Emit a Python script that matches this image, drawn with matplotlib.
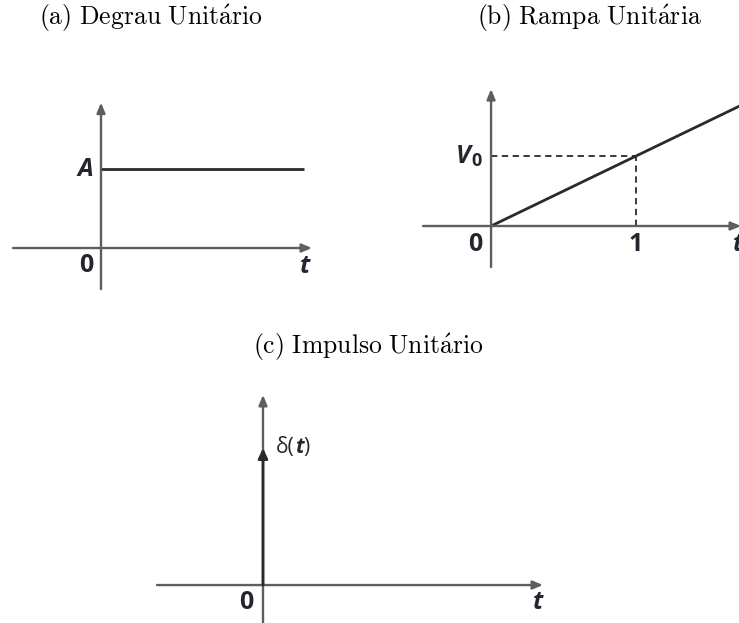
import matplotlib.pyplot as plt

plt.rcParams["mathtext.fontset"] = "cm"

W, H = 739, 623

# (a) degrau de amplitude A
step_t = [0.0, 2.03]
step_y = [1.0, 1.0]

# (b) rampa: atinge V0 em t = 1
ramp_t = [0.0, 1.75]
ramp_y = [0.0, 1.75]
v0_t = 1.0
v0_y = 1.0

# (c) impulso em t = 0
impulse_t = 0.0
impulse_y = 1.0

titles = [r"$\mathrm{(a)\ Degrau\ Unit\acute{a}rio}$",
          r"$\mathrm{(b)\ Rampa\ Unit\acute{a}ria}$",
          r"$\mathrm{(c)\ Impulso\ Unit\acute{a}rio}$"]

axis_color = "#5e5e5e"
line_color = "#2a2a2a"
label_color = "#25252f"

sans = ["Open Sans", "DejaVu Sans"]
label_kw = dict(family=sans, fontweight="bold", fontstyle="italic",
                fontsize=18, color=label_color, ha="center", va="center")
num_kw = {**label_kw, "fontstyle": "normal"}
title_kw = dict(fontsize=18.5, ha="center", va="center", color="black")


def px_axes(fig, x0, y0, x1, y1, xlim, ylim):
    ax = fig.add_axes([x0 / W, 1 - y1 / H, (x1 - x0) / W, (y1 - y0) / H])
    ax.set_xlim(xlim)
    ax.set_ylim(ylim)
    ax.axis("off")
    return ax


def draw_axes(ax, xmin, xmax, ymin, ymax):
    arrow = dict(arrowstyle="-|>,head_length=0.6,head_width=0.25",
                 color=axis_color, lw=1.7, shrinkA=0, shrinkB=0)
    ax.annotate("", xy=(xmax, 0), xytext=(xmin, 0), arrowprops=arrow,
                annotation_clip=False)
    ax.annotate("", xy=(0, ymax), xytext=(0, ymin), arrowprops=arrow,
                annotation_clip=False)


fig = plt.figure(figsize=(W / 100, H / 100), dpi=100)

# degrau
ax = px_axes(fig, 0, 90, 330, 300, (-1.01, 2.29), (-0.658, 2.0))
draw_axes(ax, -0.88, 2.11, -0.52, 1.84)
ax.plot(step_t, step_y, color=line_color, lw=2.0, solid_capstyle="butt")
ax.text(-0.16, step_y[0], "A", **label_kw)
ax.text(-0.15, -0.215, "0", **num_kw)
ax.text(2.04, -0.24, "t", **label_kw)

# rampa
ax = px_axes(fig, 400, 80, 739, 300, (-0.628, 1.710), (-1.057, 2.086))
draw_axes(ax, -0.469, 1.724, -0.586, 1.957)
dash = (0, (3.5, 2.5))
ax.plot([0, v0_t], [v0_y, v0_y], color=line_color, lw=1.3, ls=dash)
ax.plot([v0_t, v0_t], [0, v0_y], color=line_color, lw=1.3, ls=dash)
ax.plot(ramp_t, ramp_y, color=line_color, lw=2.0)
v_txt = ax.text(-0.19, v0_y, "V", **label_kw)
ax.annotate("0", xy=(1.0, 0.0), xycoords=v_txt, xytext=(0, -1),
            textcoords="offset points", ha="left", va="bottom",
            **{k: v for k, v in num_kw.items() if k not in ("ha", "va", "fontsize")},
            fontsize=13)
ax.text(-0.11, -0.26, "0", **num_kw)
ax.text(v0_t, -0.26, "1", **num_kw)
ax.text(1.70, -0.27, "t", **label_kw)

# impulso
ax = px_axes(fig, 140, 380, 560, 623, (-1.23, 2.97), (-0.277, 1.496))
draw_axes(ax, -1.06, 2.80, -0.30, 1.387)
ax.annotate("", xy=(impulse_t, impulse_y), xytext=(impulse_t, 0),
            arrowprops=dict(arrowstyle="-|>,head_length=0.6,head_width=0.28",
                            color=line_color, lw=2.0, shrinkA=0, shrinkB=0))
d_txt = ax.text(0.13, impulse_y, "δ(", family=sans, fontsize=15,
                color=label_color, ha="left", va="center")
t_txt = ax.annotate("t", xy=(1.0, 0.5), xycoords=d_txt, ha="left", va="center",
                    family=sans, fontsize=15, fontweight="bold",
                    fontstyle="italic", color=label_color)
ax.annotate(")", xy=(1.0, 0.5), xycoords=t_txt, ha="left", va="center",
            family=sans, fontsize=15, color=label_color)
ax.text(-0.17, -0.13, "0", **num_kw)
ax.text(2.75, -0.13, "t", **label_kw)

fig.text(151 / W, 1 - 18 / H, titles[0], **title_kw)
fig.text(589 / W, 1 - 18 / H, titles[1], **title_kw)
fig.text(368 / W, 1 - 347 / H, titles[2], **title_kw)

fig.savefig("out.png", dpi=100)
